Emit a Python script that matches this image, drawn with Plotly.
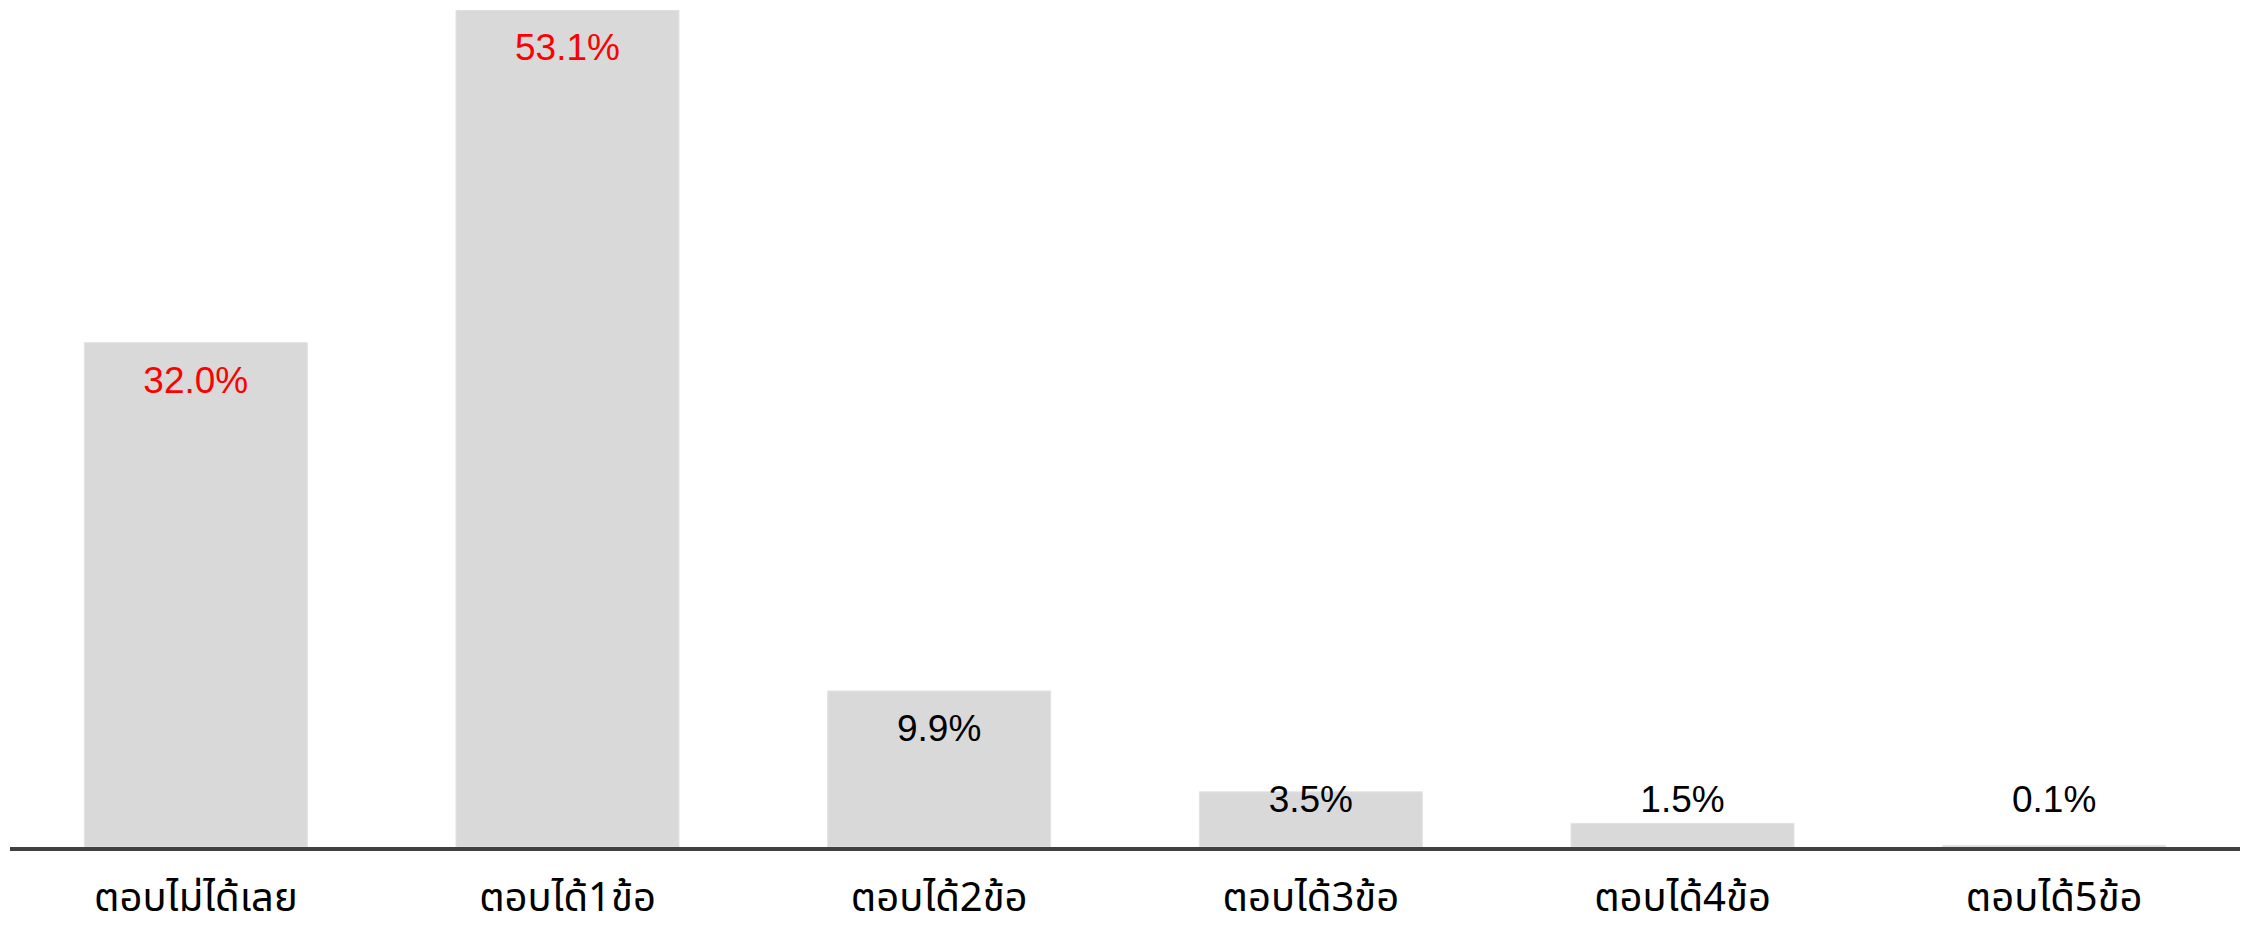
import plotly.graph_objects as go

categories = ["ตอบไม่ได้เลย", "ตอบได้1ข้อ", "ตอบได้2ข้อ", "ตอบได้3ข้อ", "ตอบได้4ข้อ", "ตอบได้5ข้อ"]
values = [32.0, 53.1, 9.9, 3.5, 1.5, 0.1]
label_texts = ["32.0%", "53.1%", "9.9%", "3.5%", "1.5%", "0.1%"]
label_colors = ["#ff0000", "#ff0000", "#000000", "#000000", "#000000", "#000000"]

# label placement: a fixed offset below bar top, but never lower than a floor
label_y = [max(v - 2.6, 2.8) for v in values]

fig = go.Figure()
fig.add_trace(go.Bar(
    x=categories, y=values,
    marker=dict(color="#d9d9d9", line=dict(color="#e3e3e3", width=1)),
    width=0.6, hoverinfo="skip", showlegend=False,
))
fig.add_trace(go.Scatter(
    x=categories, y=label_y, mode="text", text=label_texts,
    textposition="middle center",
    textfont=dict(family="Liberation Sans, Arial, sans-serif", size=37, color=label_colors),
    hoverinfo="skip", showlegend=False,
))

fig.update_layout(
    width=2246, height=939,
    margin=dict(l=10, r=6, t=10, b=92, autoexpand=False),
    paper_bgcolor="white", plot_bgcolor="white",
    bargap=0.4,
    xaxis=dict(
        showline=True, linecolor="#404040", linewidth=4,
        ticks="outside", ticklen=12, tickcolor="rgba(0,0,0,0)",
        tickfont=dict(family="Noto Sans Thai, Noto Sans, Loma, sans-serif", size=40, color="#000000"),
        showgrid=False, zeroline=False, range=[-0.5, 5.5], automargin=False,
    ),
    yaxis=dict(visible=False, range=[0, 53.1], showgrid=False, zeroline=False),
)

fig.write_html(
    "out.html",
    config={"displayModeBar": False},
    post_script="document.body.style.margin='0';document.body.style.overflow='hidden';",
)
